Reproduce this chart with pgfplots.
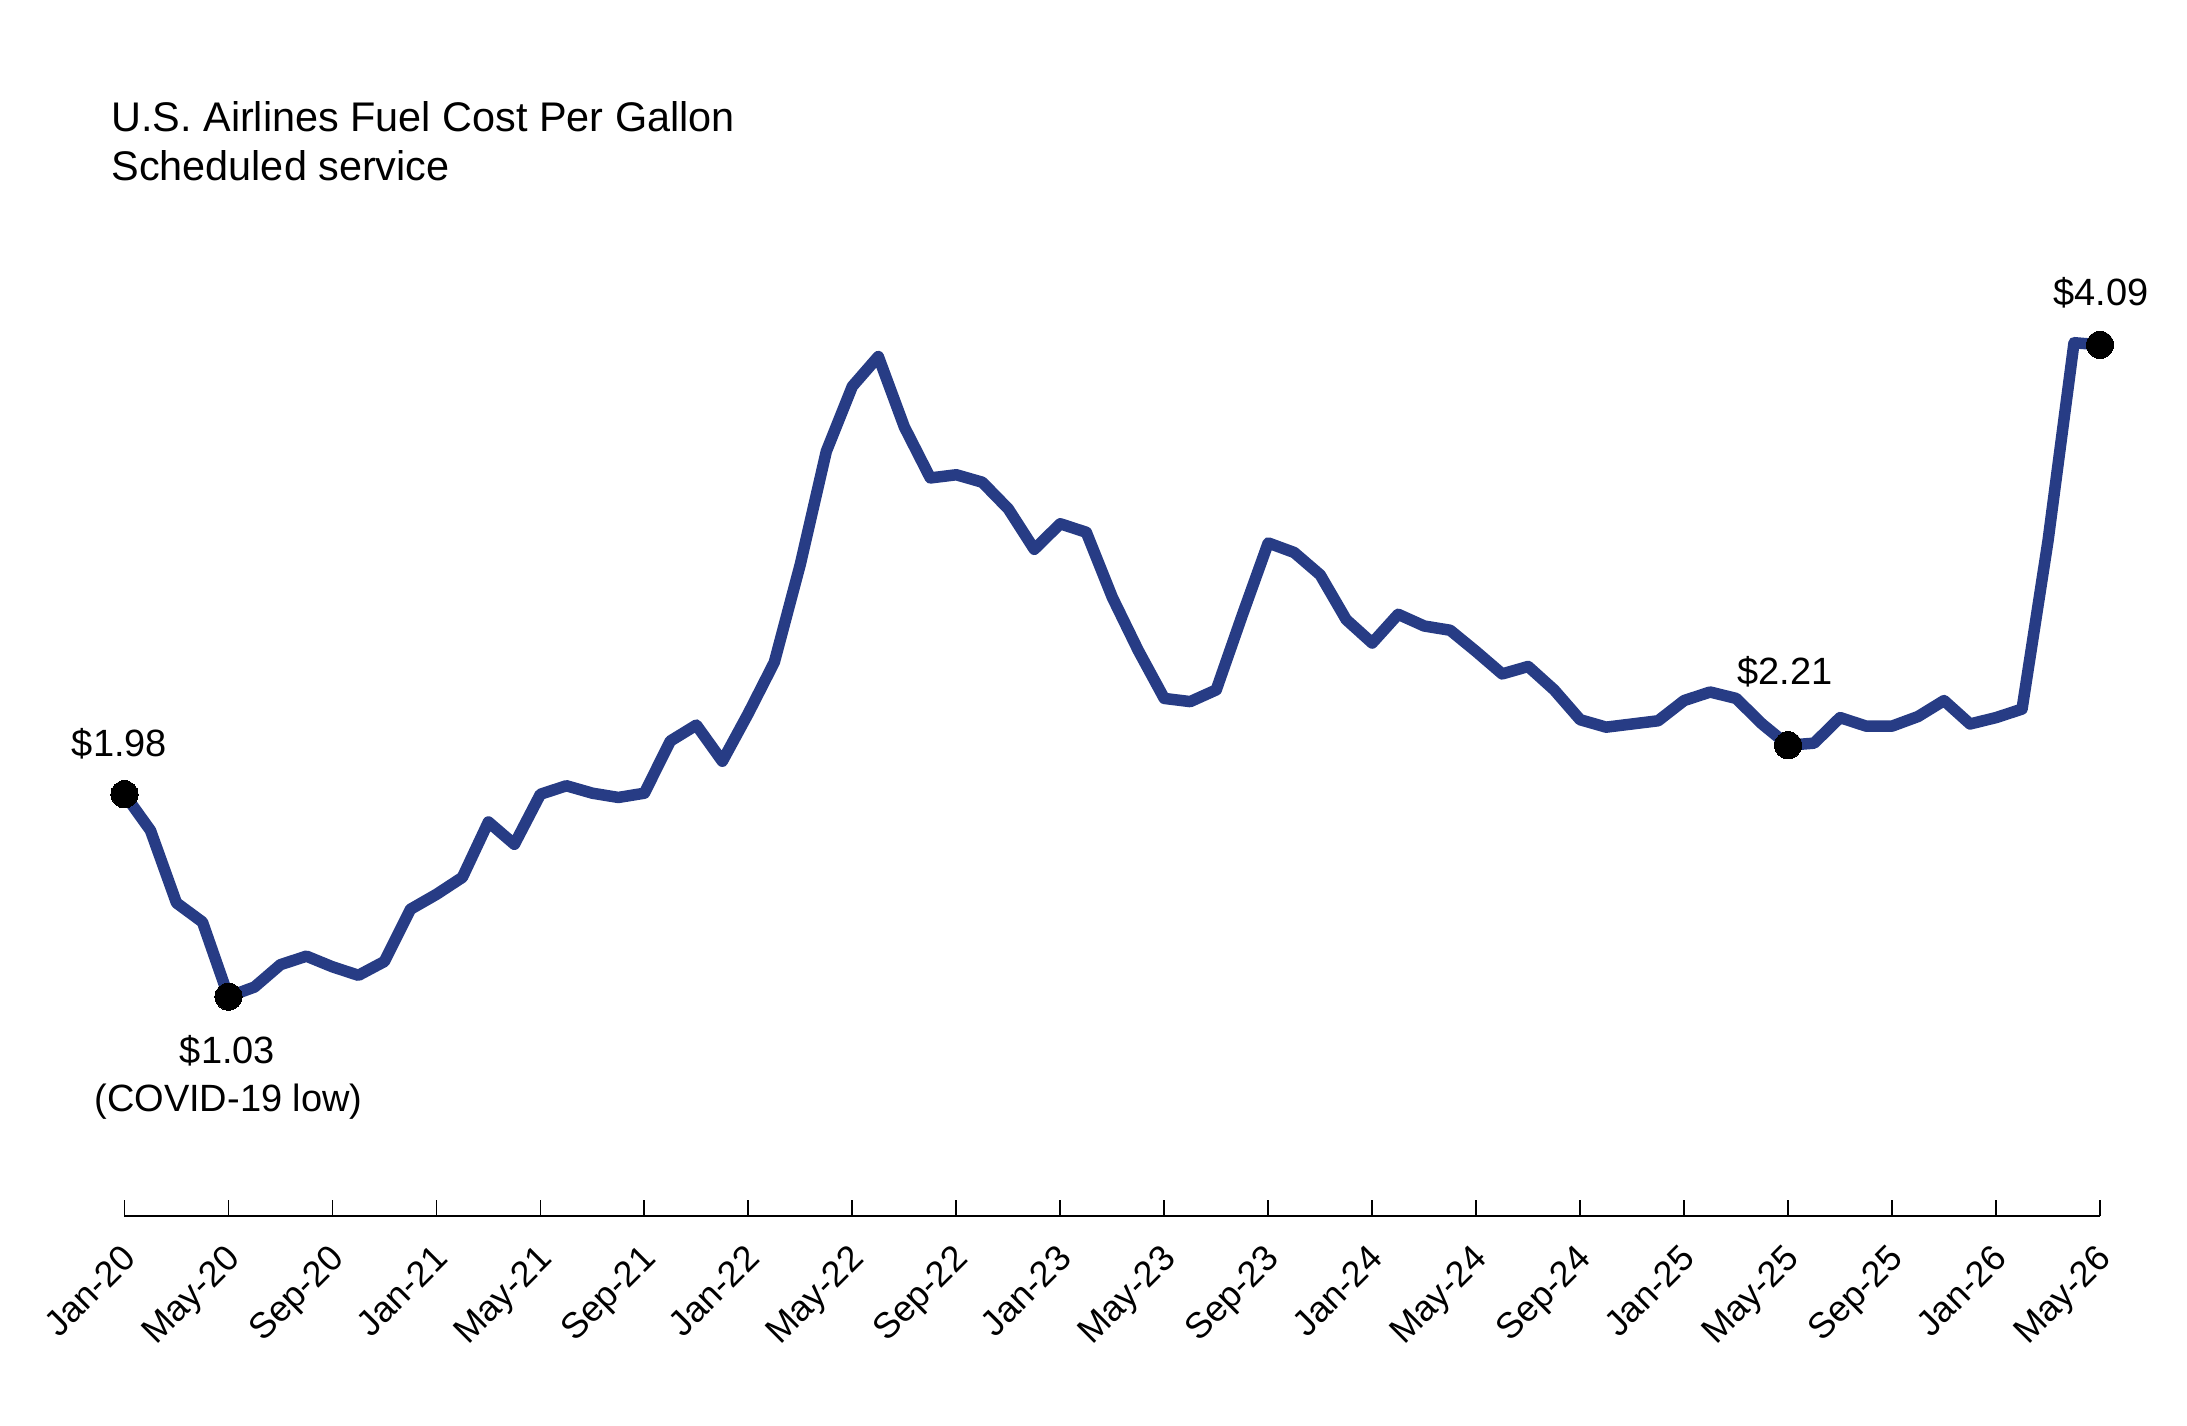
\documentclass[border=0pt]{standalone}
\usepackage{pgfplots}
\pgfplotsset{compat=1.18}
\usepackage{fontspec}
\setmainfont{Liberation Sans}
\definecolor{fuelblue}{RGB}{39,60,133}

% Monthly fuel cost per gallon, Jan 2020 (0) to May 2026 (76)
\pgfplotstableread{
m  cost
0  1.98
1  1.81
2  1.47
3  1.38
4  1.03
5  1.075
6  1.18
7  1.22
8  1.17
9  1.13
10 1.195
11 1.44
12 1.51
13 1.59
14 1.85
15 1.745
16 1.98
17 2.02
18 1.985
19 1.965
20 1.985
21 2.23
22 2.305
23 2.135
24 2.36
25 2.60
26 3.06
27 3.59
28 3.895
29 4.035
30 3.705
31 3.465
32 3.48
33 3.445
34 3.32
35 3.13
36 3.25
37 3.21
38 2.905
39 2.655
40 2.43
41 2.415
42 2.47
43 2.82
44 3.16
45 3.115
46 3.01
47 2.80
48 2.69
49 2.825
50 2.77
51 2.75
52 2.65
53 2.545
54 2.58
55 2.47
56 2.33
57 2.295
58 2.31
59 2.325
60 2.42
61 2.46
62 2.43
63 2.31
64 2.21
65 2.22
66 2.34
67 2.30
68 2.30
69 2.345
70 2.42
71 2.31
72 2.34
73 2.38
74 3.17
75 4.10
76 4.09
}\fuelcost

\begin{document}
\begin{tikzpicture}
\useasboundingbox (0,0) rectangle (1093.5pt,712.5pt);
\begin{axis}[
  at={(62.25pt,104.5pt)}, anchor=south west,
  scale only axis, width=987.75pt, height=479.25pt,
  xmin=0, xmax=76, ymin=0, ymax=4.5,
  axis x line*=bottom, axis y line=none,
  x axis line style={line width=1.4pt, -},
  ytick=\empty,
  xtick={0,4,...,76},
  xticklabels={Jan-20,May-20,Sep-20,Jan-21,May-21,Sep-21,Jan-22,May-22,Sep-22,Jan-23,May-23,Sep-23,Jan-24,May-24,Sep-24,Jan-25,May-25,Sep-25,Jan-26,May-26},
  tick align=inside, major tick length=8pt,
  xtick style={line width=0.9pt, black},
  x tick label style={font=\fontsize{18}{21}\selectfont, inner sep=0pt,
    text height=0.72em, text depth=0.21em,
    xshift=4.8pt, yshift=-20.4pt, rotate=45, anchor=east},
  clip=false,
]
\addplot[fuelblue, line width=5.75pt, line join=round, line cap=round] table[x=m, y=cost] {\fuelcost};
\addplot[only marks, mark=*, mark size=6.8pt, mark options={fill=black, draw=black, line width=0pt}]
  coordinates {(0,1.98) (4,1.03) (64,2.21) (76,4.09)};

\node[anchor=base, font=\fontsize{19}{22}\selectfont, xshift=-2.5pt, yshift=19pt] at (axis cs:0,1.98) {\$1.98};
\node[anchor=base, font=\fontsize{19}{22}\selectfont, xshift=-0.5pt, yshift=-33.6pt] at (axis cs:4,1.03) {\$1.03};
\node[anchor=base, font=\fontsize{19}{22}\selectfont, xshift=0pt, yshift=-57.5pt] at (axis cs:4,1.03) {(COVID-19 low)};
\node[anchor=base, font=\fontsize{19}{22}\selectfont, xshift=-1.5pt, yshift=30.35pt] at (axis cs:64,2.21) {\$2.21};
\node[anchor=base, font=\fontsize{19}{22}\selectfont, xshift=0.5pt, yshift=19.65pt] at (axis cs:76,4.09) {\$4.09};
\end{axis}

\node[anchor=base west, font=\fontsize{20.7}{24}\selectfont, inner sep=0pt] at (55.5pt,646.65pt) {U.S. Airlines Fuel Cost Per Gallon};
\node[anchor=base west, font=\fontsize{20.7}{24}\selectfont, inner sep=0pt] at (55.5pt,622.15pt) {Scheduled service};
\end{tikzpicture}
\end{document}
